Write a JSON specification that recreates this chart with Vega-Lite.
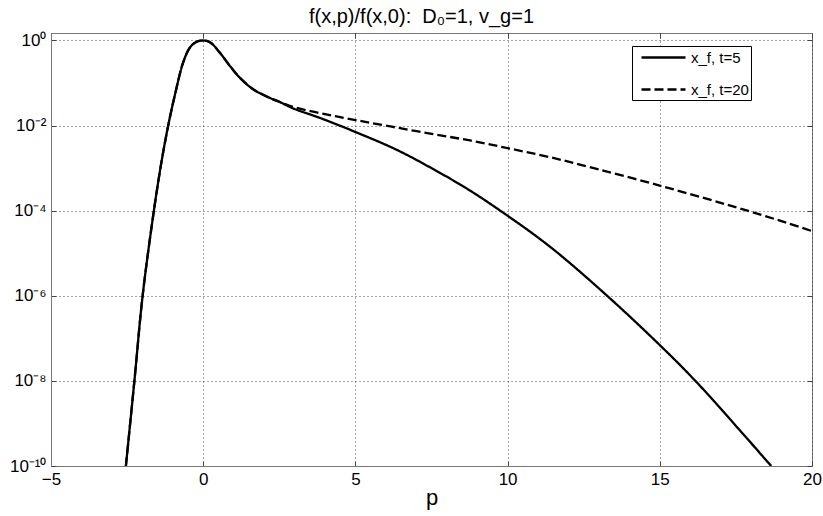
{
  "$schema": "https://vega.github.io/schema/vega-lite/v6.json",
  "width": 761,
  "height": 433,
  "autosize": {"type": "none"},
  "padding": {"left": 51, "top": 33, "right": 11, "bottom": 50},
  "background": "white",
  "title": {"text": "f(x,p)/f(x,0):\u00a0\u00a0D₀=1, v_g=1", "font": "Liberation Sans", "fontSize": 20, "fontWeight": "normal", "color": "black", "anchor": "middle", "offset": 4, "dx": -10},
  "config": {
    "view": {"stroke": "#777777", "strokeWidth": 1},
    "axis": {
      "labelFont": "Liberation Sans",
      "labelFontSize": 17,
      "labelColor": "black",
      "titleFont": "Liberation Sans",
      "titleFontWeight": "normal",
      "titleColor": "black",
      "domainColor": "#777777",
      "tickColor": "#444444",
      "tickSize": -5,
      "grid": true,
      "gridColor": "#333333",
      "gridDash": [1, 3],
      "gridOpacity": 0.9,
      "gridWidth": 1
    }
  },
  "data": {
    "values": [
      {"p": -2.54, "f": 1e-10, "series": "x_f, t=5"},
      {"p": -2.26, "f": 1e-8, "series": "x_f, t=5"},
      {"p": -1.99, "f": 1e-6, "series": "x_f, t=5"},
      {"p": -1.62, "f": 1e-4, "series": "x_f, t=5"},
      {"p": -1.37, "f": 0.00141, "series": "x_f, t=5"},
      {"p": -1.15, "f": 0.01, "series": "x_f, t=5"},
      {"p": -0.93, "f": 0.0525, "series": "x_f, t=5"},
      {"p": -0.66, "f": 0.302, "series": "x_f, t=5"},
      {"p": -0.44, "f": 0.676, "series": "x_f, t=5"},
      {"p": -0.22, "f": 0.933, "series": "x_f, t=5"},
      {"p": 0, "f": 1, "series": "x_f, t=5"},
      {"p": 0.22, "f": 0.912, "series": "x_f, t=5"},
      {"p": 0.55, "f": 0.513, "series": "x_f, t=5"},
      {"p": 0.88, "f": 0.251, "series": "x_f, t=5"},
      {"p": 1.21, "f": 0.132, "series": "x_f, t=5"},
      {"p": 1.65, "f": 0.0708, "series": "x_f, t=5"},
      {"p": 2.19, "f": 0.0447, "series": "x_f, t=5"},
      {"p": 2.5, "f": 0.0363, "series": "x_f, t=5"},
      {"p": 2.97, "f": 0.0251, "series": "x_f, t=5"},
      {"p": 3.84, "f": 0.0151, "series": "x_f, t=5"},
      {"p": 5, "f": 0.00708, "series": "x_f, t=5"},
      {"p": 6.36, "f": 0.00269, "series": "x_f, t=5"},
      {"p": 7.5, "f": 0.001, "series": "x_f, t=5"},
      {"p": 8.66, "f": 0.000331, "series": "x_f, t=5"},
      {"p": 9.76, "f": 1e-4, "series": "x_f, t=5"},
      {"p": 11.4, "f": 1.41e-5, "series": "x_f, t=5"},
      {"p": 13.27, "f": 1e-6, "series": "x_f, t=5"},
      {"p": 15.06, "f": 6.31e-8, "series": "x_f, t=5"},
      {"p": 16.17, "f": 1e-8, "series": "x_f, t=5"},
      {"p": 17.43, "f": 1e-9, "series": "x_f, t=5"},
      {"p": 18.66, "f": 1e-10, "series": "x_f, t=5"},
      {"p": -2.54, "f": 1e-10, "series": "x_f, t=20"},
      {"p": -2.26, "f": 1e-8, "series": "x_f, t=20"},
      {"p": -1.99, "f": 1e-6, "series": "x_f, t=20"},
      {"p": -1.62, "f": 1e-4, "series": "x_f, t=20"},
      {"p": -1.37, "f": 0.00141, "series": "x_f, t=20"},
      {"p": -1.15, "f": 0.01, "series": "x_f, t=20"},
      {"p": -0.93, "f": 0.0525, "series": "x_f, t=20"},
      {"p": -0.66, "f": 0.302, "series": "x_f, t=20"},
      {"p": -0.44, "f": 0.676, "series": "x_f, t=20"},
      {"p": -0.22, "f": 0.933, "series": "x_f, t=20"},
      {"p": 0, "f": 1, "series": "x_f, t=20"},
      {"p": 0.22, "f": 0.912, "series": "x_f, t=20"},
      {"p": 0.55, "f": 0.513, "series": "x_f, t=20"},
      {"p": 0.88, "f": 0.251, "series": "x_f, t=20"},
      {"p": 1.21, "f": 0.132, "series": "x_f, t=20"},
      {"p": 1.65, "f": 0.0708, "series": "x_f, t=20"},
      {"p": 2.19, "f": 0.0447, "series": "x_f, t=20"},
      {"p": 2.5, "f": 0.0363, "series": "x_f, t=20"},
      {"p": 3.0, "f": 0.0269, "series": "x_f, t=20"},
      {"p": 4.0, "f": 0.0186, "series": "x_f, t=20"},
      {"p": 5, "f": 0.0135, "series": "x_f, t=20"},
      {"p": 6.15, "f": 0.00955, "series": "x_f, t=20"},
      {"p": 7.46, "f": 0.00646, "series": "x_f, t=20"},
      {"p": 8.77, "f": 0.00447, "series": "x_f, t=20"},
      {"p": 10, "f": 0.00295, "series": "x_f, t=20"},
      {"p": 11.19, "f": 0.00195, "series": "x_f, t=20"},
      {"p": 12.4, "f": 0.0012, "series": "x_f, t=20"},
      {"p": 15.05, "f": 0.00038, "series": "x_f, t=20"},
      {"p": 17.88, "f": 1e-4, "series": "x_f, t=20"},
      {"p": 19.24, "f": 5.01e-5, "series": "x_f, t=20"},
      {"p": 20, "f": 3.31e-5, "series": "x_f, t=20"}
    ]
  },
  "resolve": {"axis": {"x": "independent", "y": "independent"}},
  "layer": [
    {
      "mark": {"type": "line", "color": "black", "strokeWidth": 2.3, "interpolate": "catmull-rom", "clip": true},
      "encoding": {
        "x": {
          "field": "p",
          "type": "quantitative",
          "scale": {"domain": [-5, 20], "nice": false, "zero": false},
          "axis": {"values": [-5, 0, 5, 10, 15, 20], "title": "p", "titleFontSize": 22, "titlePadding": 0, "labelPadding": 10, "labelFlush": false}
        },
        "y": {
          "field": "f",
          "type": "quantitative",
          "scale": {"type": "log", "domain": [1e-10, 1.5], "nice": false},
          "axis": {
            "values": [1e-10, 1e-8, 1e-6, 1e-4, 1e-2, 1],
            "title": null,
            "labelPadding": 10,
            "labelFlush": false,
            "labelExpr": "datum.value > 0.5 ? '10⁰' : datum.value > 5e-3 ? '10⁻²' : datum.value > 5e-5 ? '10⁻⁴' : datum.value > 5e-7 ? '10⁻⁶' : datum.value > 5e-9 ? '10⁻⁸' : '10⁻¹⁰'"
          }
        },
        "strokeDash": {
          "field": "series",
          "type": "nominal",
          "scale": {"domain": ["x_f, t=5", "x_f, t=20"], "range": [[1, 0], [9, 4]]},
          "legend": {
            "title": null,
            "orient": "none",
            "legendX": 581,
            "legendY": 13,
            "strokeColor": "black",
            "fillColor": "white",
            "padding": 2,
            "symbolType": "M-0.25,0H5.25",
            "symbolStrokeColor": "black",
            "symbolStrokeWidth": 2.3,
            "symbolSize": 256,
            "labelFont": "Liberation Sans",
            "labelFontSize": 15,
            "labelColor": "black",
            "labelOffset": 38,
            "rowPadding": 14
          }
        }
      }
    },
    {
      "mark": {"type": "line", "strokeOpacity": 0, "clip": true},
      "encoding": {
        "x": {
          "field": "p",
          "type": "quantitative",
          "axis": {"orient": "top", "values": [-5, 0, 5, 10, 15, 20], "labels": false, "grid": false, "domain": false, "title": null}
        },
        "y": {
          "field": "f",
          "type": "quantitative",
          "axis": {"orient": "right", "values": [1e-10, 1e-8, 1e-6, 1e-4, 1e-2, 1], "labels": false, "grid": false, "domain": false, "title": null}
        }
      }
    }
  ]
}
